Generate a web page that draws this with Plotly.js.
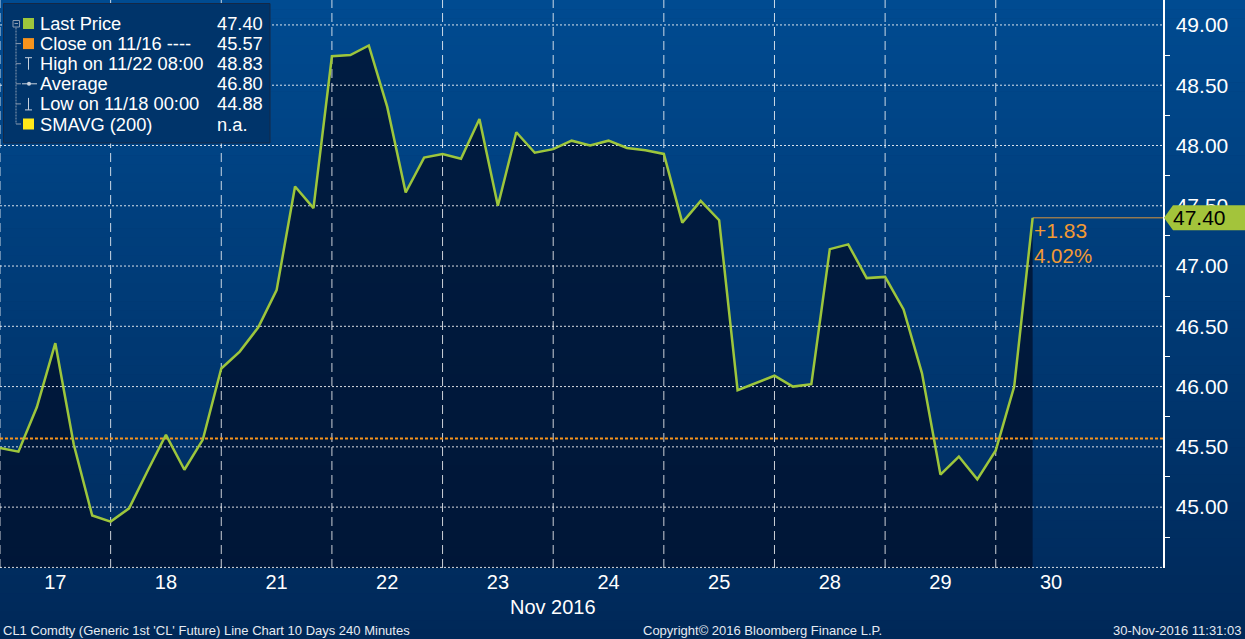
<!DOCTYPE html>
<html>
<head>
<meta charset="utf-8">
<script src="https://cdn.plot.ly/plotly-3.0.1.min.js"></script>
<style>html,body{margin:0;padding:0;background:#003060;}#chart{width:1245px;height:639px;}</style>
</head>
<body>
<div id="chart"></div>
<script>
// ---- data (CL1 Comdty, 240-minute bars, 6 bars per trading day) ----
const days = ['17', '18', '21', '22', '23', '24', '25', '28', '29', '30'];
const prices = [
  45.49, 45.46, 45.83, 46.36, 45.52, 44.93,
  44.88, 44.99, 45.30, 45.60, 45.31, 45.56,
  46.15, 46.29, 46.49, 46.80, 47.66, 47.48,
  48.74, 48.75, 48.83, 48.32, 47.61, 47.90,
  47.93, 47.89, 48.22, 47.50, 48.11, 47.94,
  47.97, 48.04, 48.00, 48.04, 47.98, 47.96,
  47.93, 47.36, 47.54, 47.38, 45.97, 46.03,
  46.09, 46.00, 46.02, 47.14, 47.18, 46.90,
  46.91, 46.64, 46.11, 45.27, 45.42, 45.23,
  45.47, 46.00, 47.40
];
const closePrice = 45.57;
const yTicks = [45.00, 45.50, 46.00, 46.50, 47.00, 47.50, 48.00, 48.50, 49.00];
const yMinorTicks = [44.75, 45.25, 45.75, 46.25, 46.75, 47.25, 47.75, 48.25, 48.75];
const legendLabels = ['Last Price', 'Close on 11/16 ----', 'High on 11/22 08:00', 'Average', 'Low on 11/18 00:00', 'SMAVG (200)'];
const legendValues = ['47.40', '45.57', '48.83', '46.80', '44.88', 'n.a.'];
const footerLeft = "CL1 Comdty (Generic 1st 'CL' Future) Line Chart 10 Days 240 Minutes";
const footerMid = 'Copyright\u00A9 2016 Bloomberg Finance L.P.';
const footerRight = '30-Nov-2016 11:31:03';
const monthLabel = 'Nov 2016';

// ---- geometry helpers (styling only) ----
const PW = 1163, PH = 568;
const px = v => v / PW;
const py = v => (PH - v) / PH;
const perDay = 6;
const xMax = 63.07;
const pxPerX = PW / xMax;
const yMin = 44.495, yMax = 49.207;
const FONT = 'Liberation Sans, Arial, sans-serif';

const idx = prices.map((_, i) => i);
const lastIdx = prices.length - 1;
const last = prices[lastIdx];
const change = last - closePrice;
const pct = change / closePrice * 100;
const gridLevels = [44.5].concat(yTicks);

// grid lines
const hx = [], hy = [];
gridLevels.forEach(v => { hx.push(0, xMax, null); hy.push(v, v, null); });
const vx = [], vy = [];
days.forEach((d, i) => { vx.push(i * perDay, i * perDay, null); vy.push(yMin, yMax, null); });

const traces = [
  { x: idx, y: prices, type: 'scatter', mode: 'lines', fill: 'tozeroy',
    fillcolor: 'rgba(0,18,46,0.80)', line: { width: 0 }, hoverinfo: 'skip' },
  { x: hx, y: hy, type: 'scatter', mode: 'lines', hoverinfo: 'skip',
    line: { color: 'rgba(255,255,255,0.85)', width: 1, dash: '2px,2px' } },
  { x: vx, y: vy, type: 'scatter', mode: 'lines', hoverinfo: 'skip',
    line: { color: 'rgba(255,255,255,0.8)', width: 1, dash: '9px,5px' } },
  { x: [0, xMax], y: [closePrice, closePrice], type: 'scatter', mode: 'lines', hoverinfo: 'skip',
    line: { color: '#f7941d', width: 2, dash: '3px,2px' } },
  { x: [lastIdx, xMax], y: [last, last], type: 'scatter', mode: 'lines', hoverinfo: 'skip',
    line: { color: '#d9953c', width: 1 } },
  { x: idx, y: prices, type: 'scatter', mode: 'lines', hoverinfo: 'skip',
    line: { color: '#9dc63c', width: 2.5 } },
  // arrow heads of the major ticks on the right axis
  { x: gridLevels.map(() => xMax + 4 / pxPerX), y: gridLevels, type: 'scatter', mode: 'markers',
    cliponaxis: false, hoverinfo: 'skip',
    marker: { symbol: 'triangle-right', size: 8, color: '#ffffff', line: { width: 0 } } }
];

// background gradient strips
const shapes = [];
const N = 70;
const yb = -71 / PH;
const gTop = [0, 75, 145], gBot = [0, 40, 88];
for (let i = 0; i < N; i++) {
  const t = (i + 0.5) / N;
  const c = gTop.map((v, j) => Math.round(v + (gBot[j] - v) * t));
  shapes.push({ type: 'rect', xref: 'paper', yref: 'paper', layer: 'below',
    x0: 0, x1: 1245 / PW, y1: 1 - (1 - yb) * i / N, y0: 1 - (1 - yb) * (i + 1) / N - 0.001,
    fillcolor: `rgb(${c[0]},${c[1]},${c[2]})`, line: { width: 0 } });
}

// legend box
shapes.push({ type: 'rect', xref: 'paper', yref: 'paper', layer: 'above',
  x0: px(3.5), x1: px(270), y0: py(143), y1: py(3.5),
  fillcolor: 'rgb(0,52,106)', line: { color: 'rgb(20,40,70)', width: 1 } });
const rowY = i => 23.5 + 20.1 * i;
const treeC = '#8a9bb0';
shapes.push({ type: 'rect', xref: 'paper', yref: 'paper', layer: 'above',
  x0: px(13), x1: px(19.5), y0: py(rowY(0) + 3.5), y1: py(rowY(0) - 3), line: { color: treeC, width: 1 } });
shapes.push({ type: 'line', xref: 'paper', yref: 'paper', layer: 'above',
  x0: px(14.5), x1: px(18), y0: py(rowY(0)), y1: py(rowY(0)), line: { color: treeC, width: 1 } });
shapes.push({ type: 'line', xref: 'paper', yref: 'paper', layer: 'above',
  x0: px(16), x1: px(16), y0: py(rowY(0) + 4), y1: py(rowY(5)), line: { color: treeC, width: 1, dash: '2px,1px' } });
for (let i = 1; i < 6; i++) {
  shapes.push({ type: 'line', xref: 'paper', yref: 'paper', layer: 'above',
    x0: px(16), x1: px(21), y0: py(rowY(i)), y1: py(rowY(i)), line: { color: treeC, width: 1 } });
}
const sq = (i, col) => shapes.push({ type: 'rect', xref: 'paper', yref: 'paper', layer: 'above',
  x0: px(23), x1: px(34), y0: py(rowY(i) + 5.5), y1: py(rowY(i) - 5.5), fillcolor: col, line: { width: 0 } });
sq(0, '#9dc63c'); sq(1, '#f7941d'); sq(5, '#ffe81a');
const ln = (x0, y0, x1, y1) => shapes.push({ type: 'line', xref: 'paper', yref: 'paper', layer: 'above',
  x0: px(x0), x1: px(x1), y0: py(y0), y1: py(y1), line: { color: '#c8d2de', width: 1 } });
ln(28.5, rowY(2) - 6, 28.5, rowY(2) + 6); ln(25, rowY(2) - 6, 32, rowY(2) - 6);
ln(22, rowY(3), 37, rowY(3));
shapes.push({ type: 'circle', xref: 'paper', yref: 'paper', layer: 'above',
  x0: px(27), x1: px(31), y0: py(rowY(3) + 2), y1: py(rowY(3) - 2), fillcolor: '#c8d2de', line: { width: 0 } });
ln(28.5, rowY(4) - 6, 28.5, rowY(4) + 6); ln(25, rowY(4) + 6, 32, rowY(4) + 6);

// last price tag (pentagon)
const tagH = 12.5 / 120.5;
shapes.push({ type: 'path', xref: 'paper', yref: 'y', layer: 'above',
  path: `M ${px(1164)},${last} L ${px(1173)},${last + tagH} L ${px(1250)},${last + tagH} L ${px(1250)},${last - tagH} L ${px(1173)},${last - tagH} Z`,
  fillcolor: '#a3c43b', line: { width: 0 } });

const annotations = [];
legendLabels.forEach((t, i) => {
  annotations.push({ xref: 'paper', yref: 'paper', x: px(37.5), y: py(rowY(i)), xanchor: 'left', yanchor: 'middle',
    text: t, showarrow: false, font: { family: FONT, size: 18.3, color: '#ffffff' } });
  annotations.push({ xref: 'paper', yref: 'paper', x: px(214.5), y: py(rowY(i)), xanchor: 'left', yanchor: 'middle',
    text: legendValues[i], showarrow: false, font: { family: FONT, size: 18.3, color: '#ffffff' } });
});
annotations.push({ xref: 'paper', yref: 'y', x: px(1171), y: last, xanchor: 'left', yanchor: 'middle',
  text: last.toFixed(2), showarrow: false, font: { family: FONT, size: 21, color: '#000000' } });
annotations.push({ xref: 'x', yref: 'y', x: lastIdx, y: last, xanchor: 'left', yanchor: 'middle', yshift: -13, xshift: -1,
  text: (change >= 0 ? '+' : '') + change.toFixed(2), showarrow: false, font: { family: FONT, size: 21, color: '#f39a33' } });
annotations.push({ xref: 'x', yref: 'y', x: lastIdx, y: last, xanchor: 'left', yanchor: 'middle', yshift: -38, xshift: -1,
  text: pct.toFixed(2) + '%', showarrow: false, font: { family: FONT, size: 20.5, color: '#f39a33' } });
annotations.push({ xref: 'paper', yref: 'paper', x: px(553), y: py(607), xanchor: 'center', yanchor: 'middle',
  text: monthLabel, showarrow: false, font: { family: FONT, size: 20, color: '#ffffff' } });
annotations.push({ xref: 'paper', yref: 'paper', x: px(1), y: py(630), xanchor: 'left', yanchor: 'middle',
  text: footerLeft, showarrow: false, font: { family: FONT, size: 13, color: '#e6ebf2' } });
annotations.push({ xref: 'paper', yref: 'paper', x: px(641), y: py(630), xanchor: 'left', yanchor: 'middle',
  text: footerMid, showarrow: false, font: { family: FONT, size: 13, color: '#e6ebf2' } });
annotations.push({ xref: 'paper', yref: 'paper', x: px(1243), y: py(630), xanchor: 'right', yanchor: 'middle',
  text: footerRight, showarrow: false, font: { family: FONT, size: 13, color: '#e6ebf2' } });

const layout = {
  width: 1245, height: 639, autosize: false,
  margin: { l: 0, r: 1245 - PW, t: 0, b: 639 - PH, pad: 0 },
  paper_bgcolor: '#003466', plot_bgcolor: 'rgba(0,0,0,0)',
  showlegend: false, hovermode: false,
  xaxis: {
    range: [0, xMax], showgrid: false, zeroline: false, showline: false,
    tickmode: 'array', tickvals: days.map((d, i) => i * perDay + perDay / 2), ticktext: days,
    ticks: '', tickfont: { family: FONT, size: 20, color: '#ffffff' }, fixedrange: true
  },
  yaxis: {
    side: 'right', range: [yMin, yMax], showgrid: false, zeroline: false,
    showline: true, linecolor: '#ffffff', linewidth: 1.5,
    tickmode: 'array', tickvals: yTicks, ticktext: yTicks.map(v => v.toFixed(2)),
    ticks: 'outside', ticklen: 7, tickwidth: 2, tickcolor: 'rgba(255,255,255,0)',
    minor: { tickmode: 'array', tickvals: yMinorTicks, ticks: 'outside', ticklen: 5, tickwidth: 1, tickcolor: '#ffffff' },
    tickfont: { family: FONT, size: 21, color: '#ffffff' }, fixedrange: true
  },
  shapes: shapes,
  annotations: annotations
};

Plotly.newPlot('chart', traces, layout, { staticPlot: true, displayModeBar: false });
</script>
</body>
</html>
